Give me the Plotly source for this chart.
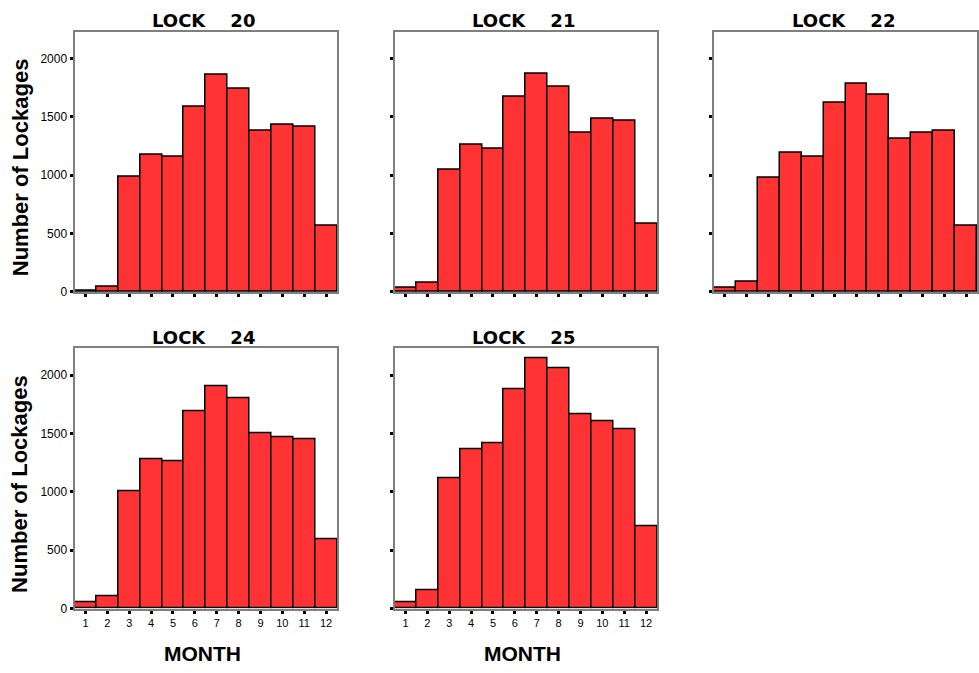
import plotly.graph_objects as go

months = list(range(1, 13))
month_labels = [str(m) for m in months]
lock_names = ["LOCK\u00a0\u00a0\u00a0\u00a020", "LOCK\u00a0\u00a0\u00a0\u00a021", "LOCK\u00a0\u00a0\u00a0\u00a022",
              "LOCK\u00a0\u00a0\u00a0\u00a024", "LOCK\u00a0\u00a0\u00a0\u00a025"]

lock20 = [10, 42, 990, 1180, 1160, 1590, 1858, 1740, 1380, 1434, 1417, 566]
lock21 = [37, 76, 1044, 1264, 1228, 1675, 1873, 1757, 1364, 1488, 1468, 583]
lock22 = [40, 90, 976, 1197, 1160, 1624, 1785, 1692, 1315, 1364, 1383, 569]
lock24 = [51, 105, 1004, 1279, 1259, 1686, 1907, 1805, 1502, 1465, 1448, 597]
lock25 = [54, 156, 1112, 1364, 1417, 1876, 2144, 2062, 1661, 1604, 1539, 707]
series = [lock20, lock21, lock22, lock24, lock25]

y_tickvals = [0, 500, 1000, 1500, 2000]
y_ticktext = ["0", "500", "1000", "1500", "2000"]

W, H = 979, 673
# panel pixel boxes: (left, right, top, bottom)
cols = [(74.5, 337), (394.5, 657), (714, 977)]
rows = [(32, 295), (352, 615)]
slots = [(0, 0), (0, 1), (0, 2), (1, 0), (1, 1)]

fig = go.Figure()
layout = dict(
    width=W, height=H, margin=dict(l=0, r=0, t=0, b=0),
    paper_bgcolor="white", plot_bgcolor="white", showlegend=False,
    bargap=0, font=dict(family="Liberation Sans, Arial, sans-serif", color="black"),
)
annotations = []
SANS = "Liberation Sans, Arial, sans-serif"
DEJ = "DejaVu Sans, sans-serif"

for i, (vals, name, (r, c)) in enumerate(zip(series, lock_names, slots)):
    n = i + 1
    xa = "x" if n == 1 else f"x{n}"
    ya = "y" if n == 1 else f"y{n}"
    fig.add_trace(go.Bar(
        x=months, y=vals, width=1, xaxis=xa, yaxis=ya,
        marker=dict(color="#ff3333", line=dict(color="black", width=1.5)),
        hoverinfo="skip",
    ))
    l, rr = cols[c]
    t, b = rows[r]
    xdom = [l / W, rr / W]
    ydom = [1 - b / H, 1 - t / H]
    xkey = "xaxis" if n == 1 else f"xaxis{n}"
    ykey = "yaxis" if n == 1 else f"yaxis{n}"
    layout[xkey] = dict(
        domain=xdom, anchor=ya, range=[0.5, 12.5],
        tickvals=months, ticktext=month_labels if r == 1 else [""] * 12,
        showticklabels=(r == 1),
        ticks="outside", ticklen=3, tickwidth=3, tickcolor="black",
        showline=True, linecolor="#7f7f7f", linewidth=2, mirror=True,
        showgrid=False, zeroline=False, fixedrange=True,
        tickfont=dict(family=SANS, size=11, color="black"),
    )
    layout[ykey] = dict(
        domain=ydom, anchor=xa, range=[0, 2230],
        tickvals=y_tickvals, ticktext=y_ticktext if c == 0 else [""] * 5,
        showticklabels=(c == 0),
        ticks="outside", ticklen=3, tickwidth=3, tickcolor="black",
        showline=True, linecolor="#7f7f7f", linewidth=2, mirror=True,
        showgrid=False, zeroline=False, fixedrange=True,
        tickfont=dict(family=SANS, size=12, color="black"),
    )
    annotations.append(dict(
        text=f"<b>{name}</b>", xref="paper", yref="paper",
        x=((l + rr) / 2 - 2) / W, y=1 - (t - 11) / H, xanchor="center", yanchor="middle",
        showarrow=False, font=dict(family=DEJ, size=18, color="black"),
    ))
    if c == 0:
        annotations.append(dict(
            text="<b>Number of Lockages</b>", xref="paper", yref="paper",
            x=20 / W, y=1 - ((t + b) / 2 + 5.5) / H, xanchor="center", yanchor="middle",
            textangle=-90, showarrow=False, font=dict(family=SANS, size=22, color="black"),
        ))
    if r == 1:
        annotations.append(dict(
            text="<b>MONTH</b>", xref="paper", yref="paper",
            x=((l + rr) / 2 - 3) / W, y=1 - 660 / H, xanchor="center", yanchor="middle",
            showarrow=False, font=dict(family=SANS, size=21, color="black"),
        ))

layout["annotations"] = annotations
fig.update_layout(**layout)
fig.write_html("out.html", config={"displayModeBar": False},
               post_script="document.body.style.margin='0';document.body.style.overflow='hidden';")
